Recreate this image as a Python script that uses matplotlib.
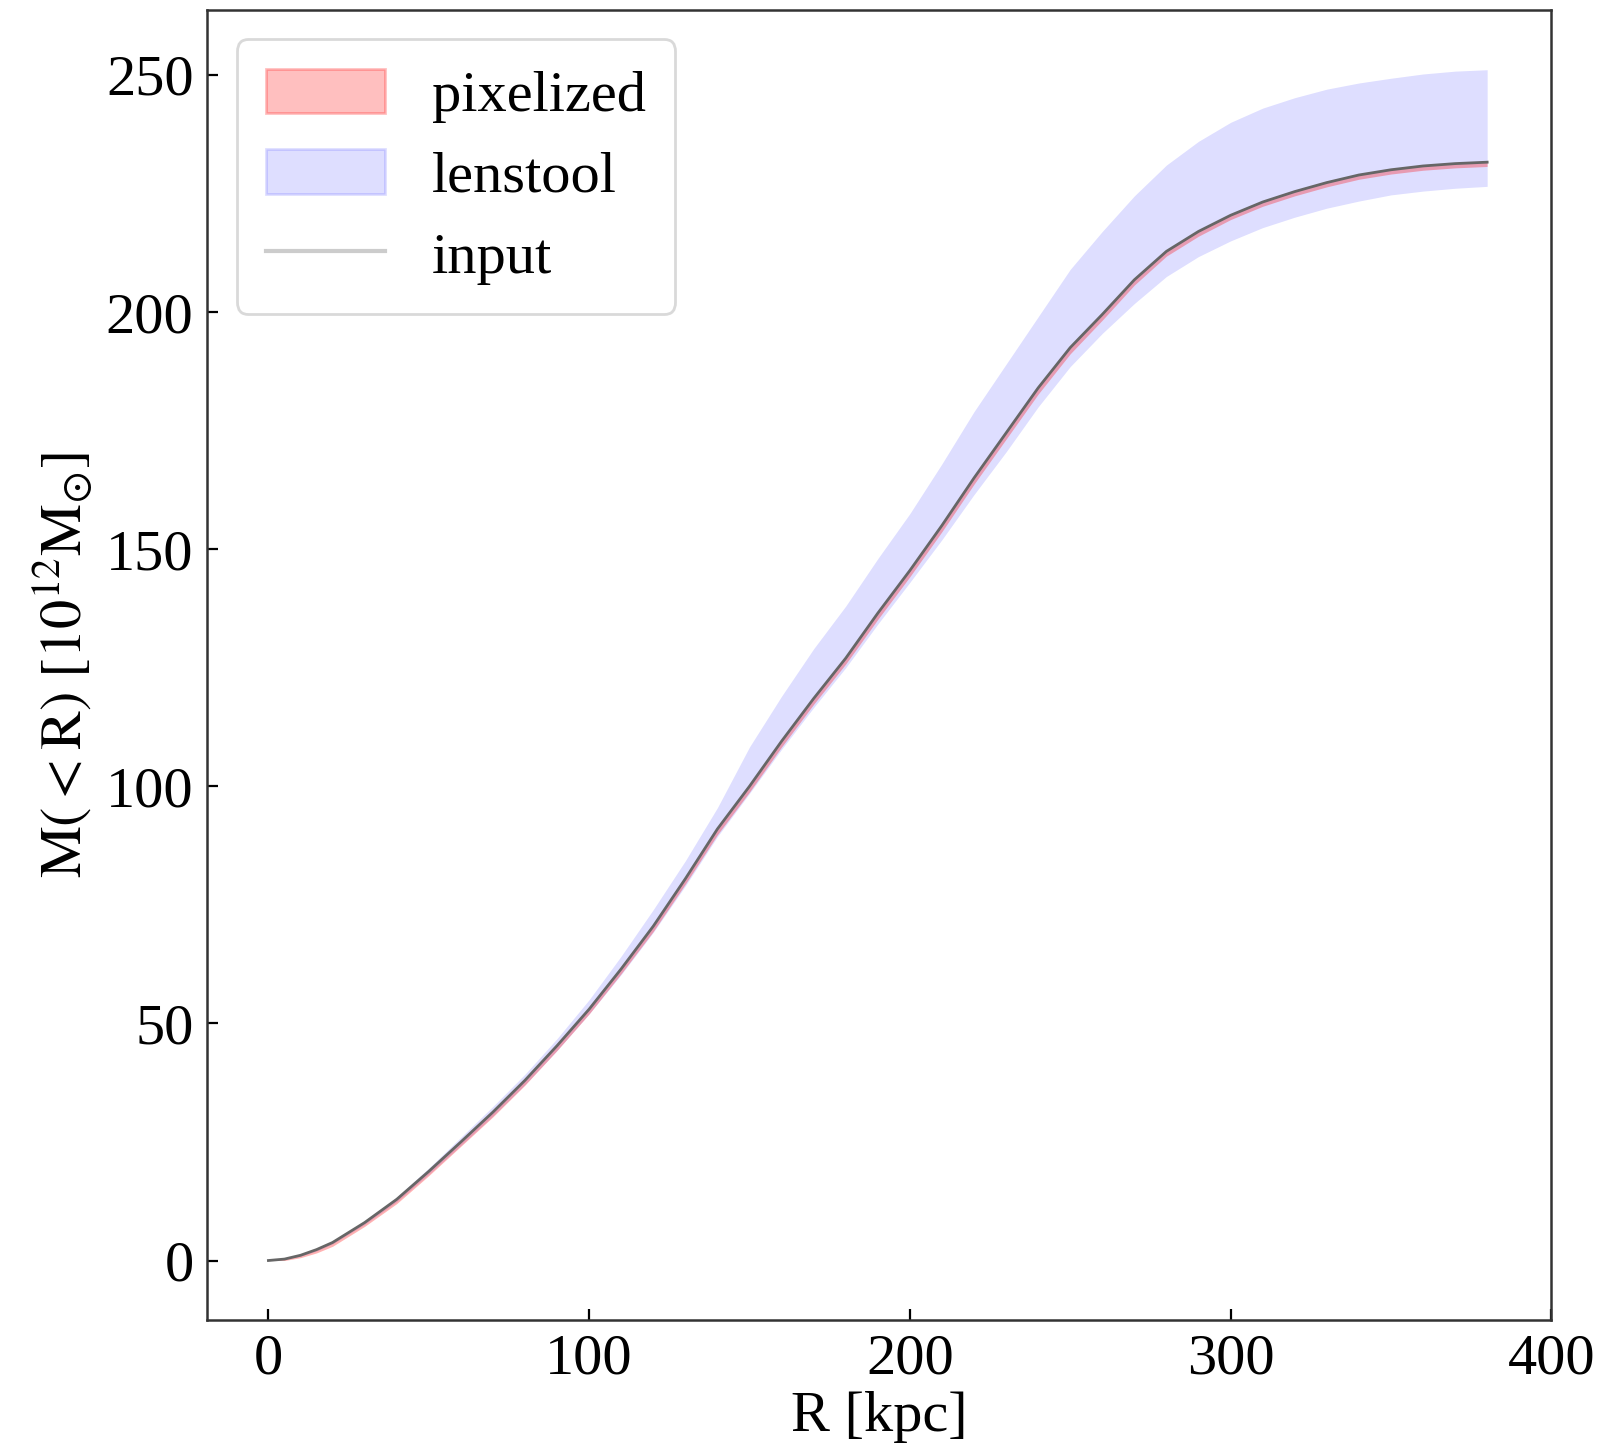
import numpy as np
import matplotlib.pyplot as plt
from matplotlib.patches import Patch
from matplotlib.lines import Line2D

plt.rcParams['font.family'] = ['Liberation Serif', 'DejaVu Serif']
plt.rcParams['mathtext.fontset'] = 'stix'

# -- Données -- #
R = [0, 5, 10, 15, 20, 30, 40, 50, 60, 70, 80, 90, 100, 110, 120, 130, 140, 150, 160, 170, 180, 190,
     200, 210, 220, 230, 240, 250, 260, 270, 280, 290, 300, 310, 320, 330, 340, 350, 360, 370, 380]

M_input = [0, 0.3, 1.1, 2.3, 3.8, 8.0, 12.9, 18.8, 25.0, 31.3, 38, 45.3, 53, 61.5, 70.5, 80.5, 91,
           100, 109.5, 118.5, 127, 136.5, 145.5, 155, 165, 174.5, 184, 192.5, 199.5, 206.8, 212.8,
           217, 220.4, 223.2, 225.4, 227.3, 228.9, 230, 230.8, 231.3, 231.6]

lens_hi = [0, 0.35, 1.2, 2.5, 4.0, 8.3, 13.4, 19.5, 26.0, 32.5, 39.3, 46.8, 55, 64.2, 74, 84.3, 95.5,
           108.3, 119, 129, 138, 148, 157.5, 168, 179, 189, 199, 209, 217, 224.5, 231, 236, 240, 243,
           245.2, 247, 248.3, 249.3, 250.2, 250.8, 251.1]

lens_lo = [0, 0.25, 0.9, 2.0, 3.5, 7.6, 12.4, 18.2, 24.3, 30.5, 37.1, 44.3, 52, 60.3, 69.2, 79, 89.4,
           98.5, 107.8, 116.6, 125, 134.2, 143, 152, 161.5, 170.5, 180, 188.5, 195.5, 201.8, 207.5,
           211.7, 215, 217.8, 220, 221.9, 223.4, 224.7, 225.5, 226.1, 226.5]

pix_hi = [0, 0.4, 1.2, 2.4, 3.9, 8.1, 13.0, 18.9, 25.1, 31.4, 38.1, 45.4, 53.1, 61.6, 70.6, 80.6, 91.1,
          100.1, 109.6, 118.6, 127.1, 136.6, 145.6, 155.1, 165.1, 174.6, 184.1, 192.6, 199.6, 206.9,
          212.9, 217.1, 220.5, 223.3, 225.5, 227.4, 229, 230.1, 230.9, 231.4, 231.7]

pix_lo = [0, 0.0, 0.6, 1.6, 3.0, 7.2, 12.0, 17.9, 24.1, 30.3, 37.0, 44.3, 52.0, 60.5, 69.4, 79.4, 89.8,
          98.8, 108.3, 117.3, 125.8, 135.2, 144.2, 153.7, 163.7, 173.2, 182.7, 191.2, 198.3, 205.7,
          211.8, 216, 219.5, 222.3, 224.5, 226.4, 228, 229.1, 229.9, 230.4, 230.7]

# -- Tracé -- #
fig = plt.figure(figsize=(8.105, 7.265), dpi=200)
ax = fig.add_axes([0.128, 0.0915, 0.829, 0.9015])

ax.fill_between(R, lens_lo, lens_hi, color='b', alpha=0.13, lw=0)
ax.fill_between(R, pix_lo, pix_hi, color='r', alpha=0.3, lw=0)
ax.plot(R, M_input, color='0.4', lw=1.0)

ax.set_xlabel('R [kpc]', fontsize=21, labelpad=2)
ax.set_ylabel(r'$\mathrm{M(<R)\ [10^{12}M_{\odot}]}$', fontsize=21, labelpad=4)
ax.set_xticks([0, 100, 200, 300, 400])
ax.set_yticks([0, 50, 100, 150, 200, 250])
ax.tick_params(direction='in', length=4, width=0.8, labelsize=21, pad=5,
               top=False, right=False)
for s in ax.spines.values():
    s.set_color('0.2')
    s.set_linewidth(0.9)

handles = [Patch(facecolor='r', alpha=0.25, edgecolor='r'),
           Patch(facecolor='b', alpha=0.13, edgecolor='b'),
           Line2D([], [], color='0.8', lw=1.5)]
ax.legend(handles, ['pixelized', 'lenstool', 'input'], loc='upper left', fontsize=21,
          handlelength=2.05, handleheight=0.8, handletextpad=0.8, labelspacing=0.45,
          borderpad=0.5, fancybox=True, edgecolor='0.85', framealpha=1.0)

fig.savefig('out.png', dpi=200)
